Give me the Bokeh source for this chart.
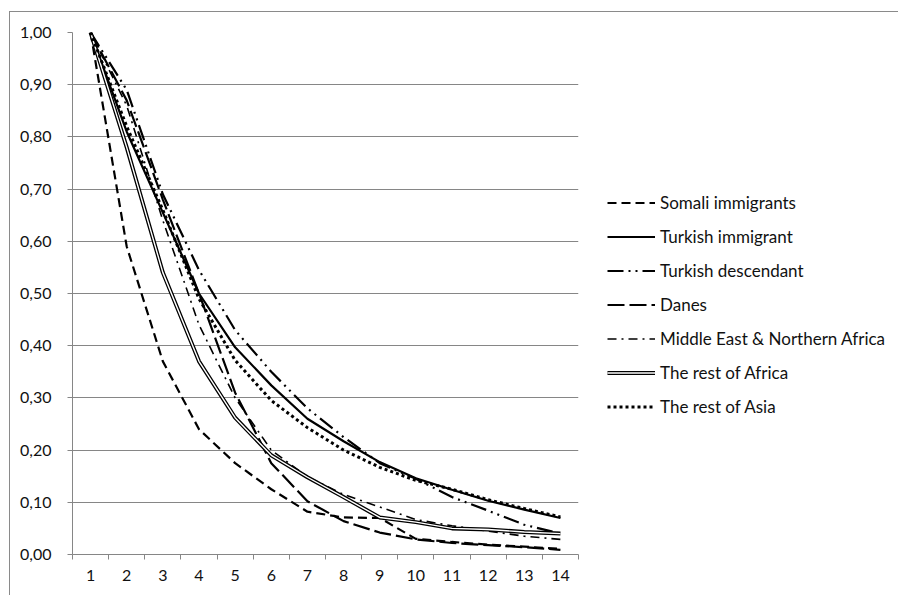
from bokeh.plotting import figure
from bokeh.models import FixedTicker, Range1d, Legend, LegendItem
from bokeh.embed import file_html
from bokeh.resources import INLINE

periods = list(range(1, 15))
somali = [1.00, 0.59, 0.37, 0.24, 0.175, 0.125, 0.082, 0.071, 0.070, 0.030, 0.024, 0.019, 0.015, 0.011]
turkish_imm = [1.00, 0.81, 0.655, 0.50, 0.397, 0.324, 0.26, 0.217, 0.177, 0.146, 0.124, 0.103, 0.086, 0.070]
turkish_desc = [1.00, 0.89, 0.69, 0.545, 0.43, 0.35, 0.28, 0.225, 0.175, 0.145, 0.11, 0.084, 0.057, 0.040]
danes = [1.00, 0.87, 0.68, 0.50, 0.31, 0.175, 0.102, 0.064, 0.042, 0.029, 0.022, 0.018, 0.014, 0.009]
mena = [1.00, 0.86, 0.64, 0.44, 0.30, 0.20, 0.149, 0.115, 0.091, 0.067, 0.055, 0.045, 0.035, 0.029]
rest_africa = [1.00, 0.78, 0.54, 0.37, 0.262, 0.19, 0.148, 0.11, 0.071, 0.062, 0.05, 0.048, 0.043, 0.040]
rest_asia = [1.00, 0.82, 0.66, 0.49, 0.372, 0.295, 0.243, 0.20, 0.167, 0.142, 0.125, 0.105, 0.088, 0.072]
y_ticks = [0.0, 0.1, 0.2, 0.3, 0.4, 0.5, 0.6, 0.7, 0.8, 0.9, 1.0]

FONT = "Lato"
GRID = "#868686"

p = figure(frame_width=506, frame_height=522, min_border_left=62, min_border_top=20,
           min_border_bottom=41, min_border_right=0,
           output_backend="svg", toolbar_location=None,
           x_range=Range1d(0.5, 14.5), y_range=Range1d(0, 1.0))
p.styles = {"border-left": "1px solid #8a8a8a", "border-top": "1px solid #8a8a8a",
            "margin-top": "11px", "margin-left": "9px"}
p.outline_line_color = None
p.background_fill_color = "white"

# axes
p.xaxis.ticker = FixedTicker(ticks=periods, minor_ticks=[i + 0.5 for i in range(0, 15)])
p.xaxis.major_tick_out = 0
p.xaxis.major_tick_in = 0
p.xaxis.minor_tick_out = 5
p.xaxis.minor_tick_in = 0
p.xaxis.minor_tick_line_color = GRID
p.xaxis.major_label_standoff = 10
p.yaxis.ticker = FixedTicker(ticks=y_ticks)
p.yaxis.major_label_overrides = {t: ("%.2f" % t).replace(".", ",") for t in y_ticks}
p.yaxis.major_tick_out = 5
p.yaxis.major_tick_in = 0
p.yaxis.minor_tick_out = 0
p.yaxis.minor_tick_in = 0
p.yaxis.major_label_standoff = 16
for ax in (p.xaxis, p.yaxis):
    ax.axis_line_color = GRID
    ax.major_tick_line_color = GRID
    ax.major_label_text_font = FONT
    ax.major_label_text_font_size = "16px"
    ax.major_label_text_color = "#111111"
p.xgrid.grid_line_color = None
p.ygrid.grid_line_color = GRID
p.ygrid.grid_line_width = 1
p.ygrid.ticker = FixedTicker(ticks=y_ticks)

r_somali = p.line(periods, somali, line_color="black", line_width=2.2, line_dash="9 5")
r_timm = p.line(periods, turkish_imm, line_color="black", line_width=2.2)
r_tdesc = p.line(periods, turkish_desc, line_color="black", line_width=2.2, line_dash="16 5 2 5 2 5")
r_danes = p.line(periods, danes, line_color="black", line_width=2.2, line_dash="17 5")
r_mena = p.line(periods, mena, line_color="black", line_width=1.6, line_dash="9 5 2 5")
r_afr_b = p.line(periods, rest_africa, line_color="black", line_width=4)
r_afr_w = p.line(periods, rest_africa, line_color="white", line_width=1.4)
r_asia = p.line(periods, rest_asia, line_color="black", line_width=3, line_dash="3 3")

legend = Legend(items=[
    LegendItem(label="Somali immigrants", renderers=[r_somali]),
    LegendItem(label="Turkish immigrant", renderers=[r_timm]),
    LegendItem(label="Turkish descendant", renderers=[r_tdesc]),
    LegendItem(label="Danes", renderers=[r_danes]),
    LegendItem(label="Middle East & Northern Africa", renderers=[r_mena]),
    LegendItem(label="The rest of Africa", renderers=[r_afr_b, r_afr_w]),
    LegendItem(label="The rest of Asia", renderers=[r_asia]),
], location="top_left")
legend.border_line_color = None
legend.background_fill_alpha = 0
legend.padding = 0
legend.spacing = 13
legend.glyph_width = 48
legend.glyph_height = 21
legend.label_height = 21
legend.label_standoff = 5
legend.label_text_font = FONT
legend.label_text_font_size = "17px"
legend.label_text_color = "#111111"
p.add_layout(legend, "right")
legend.margin = 29
legend.location = (29, 137)

open("out.html", "w").write(file_html(p, INLINE))
